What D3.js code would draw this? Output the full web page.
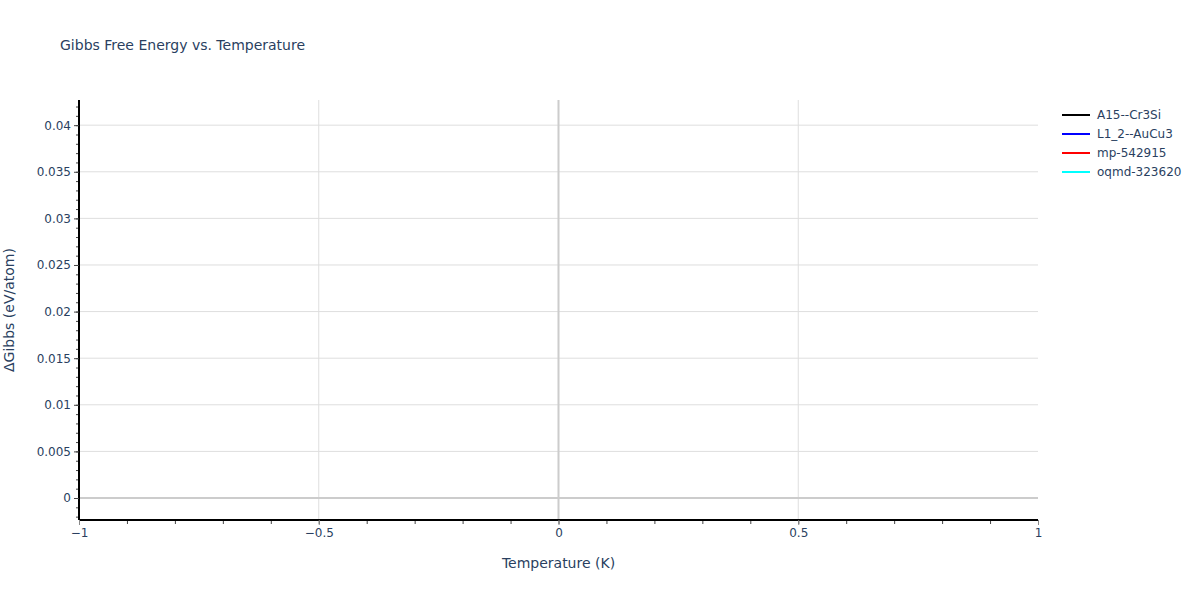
<!DOCTYPE html>
<html>
<head>
<meta charset="utf-8">
<script src="https://cdn.jsdelivr.net/npm/d3@7"></script>
<style>
  body { margin: 0; background: #fff; font-family: "DejaVu Sans", sans-serif; }
  text { font-family: "DejaVu Sans", sans-serif; fill: #2a3f5f; }
</style>
</head>
<body>
<div id="chart"></div>
<script>
// series names and colours (no data points are plotted in the reference)
var seriesNames = ["A15--Cr3Si", "L1_2--AuCu3", "mp-542915", "oqmd-323620"];
var seriesColors = ["black", "blue", "red", "cyan"];
var seriesValues = [[], [], [], []];

var xDomain = [-1, 1];
var yDomain = [-0.00236, 0.0427];
var xTicks = [-1, -0.5, 0, 0.5, 1];
var yTicks = [0, 0.005, 0.01, 0.015, 0.02, 0.025, 0.03, 0.035, 0.04];

var W = 1200, H = 600;
var margin = {top: 100, right: 162, bottom: 80, left: 79},
    width = W - margin.left - margin.right,
    height = H - margin.top - margin.bottom;

var svgRoot = d3.select("#chart").append("svg")
  .attr("width", W)
  .attr("height", H);

var svg = svgRoot.append("g")
  .attr("transform", "translate(" + margin.left + "," + margin.top + ")");

var x = d3.scaleLinear().domain(xDomain).range([0, width]);
var y = d3.scaleLinear().domain(yDomain).range([height, 0]);

// grid lines
svg.append("g")
  .selectAll("line")
  .data(xTicks.filter(d => d !== 0 && d !== -1 && d !== 1))
  .join("line")
    .attr("x1", d => x(d)).attr("x2", d => x(d))
    .attr("y1", 0).attr("y2", height)
    .attr("stroke", "#dedede").attr("stroke-width", 1);

svg.append("g")
  .selectAll("line")
  .data(yTicks.filter(d => d !== 0))
  .join("line")
    .attr("x1", 0).attr("x2", width)
    .attr("y1", d => y(d)).attr("y2", d => y(d))
    .attr("stroke", "#dedede").attr("stroke-width", 1);

// zero lines
svg.append("line")
  .attr("x1", x(0)).attr("x2", x(0))
  .attr("y1", 0).attr("y2", height)
  .attr("stroke", "#cccccc").attr("stroke-width", 2);
svg.append("line")
  .attr("x1", 0).attr("x2", width)
  .attr("y1", y(0)).attr("y2", y(0))
  .attr("stroke", "#cccccc").attr("stroke-width", 2);

// data lines (empty)
var line = d3.line().x(d => x(d[0])).y(d => y(d[1]));
seriesValues.forEach(function(vals, i) {
  svg.append("path")
    .datum(vals)
    .attr("fill", "none")
    .attr("stroke", seriesColors[i])
    .attr("stroke-width", 2)
    .attr("d", line);
});

// minor ticks
svg.append("g")
  .attr("transform", "translate(0," + height + ")")
  .call(d3.axisBottom(x).tickValues(d3.range(-10, 11).map(d => d / 10)).tickSize(4).tickFormat(""))
  .call(g => g.select(".domain").remove())
  .selectAll("line").attr("stroke", "#444");

svg.append("g")
  .call(d3.axisLeft(y).tickValues(d3.range(-2, 43).map(d => d / 1000)).tickSize(3).tickFormat(""))
  .call(g => g.select(".domain").remove())
  .selectAll("line").attr("stroke", "#444");

// X axis
var fmt = function(d) { return d === 0 ? "0" : String(d).replace("-", "\u2212"); };
var xAxis = svg.append("g")
  .attr("transform", "translate(0," + height + ")")
  .call(d3.axisBottom(x).tickValues(xTicks).tickSize(5).tickPadding(3).tickFormat(fmt));
xAxis.select(".domain").attr("stroke", "#000").attr("stroke-width", 2).attr("d", "M0,0H" + width);
xAxis.selectAll(".tick line").attr("stroke", "#888");
xAxis.selectAll("text").style("font-size", "12px").style("fill", "#2a3f5f");

// Y axis
var yAxis = svg.append("g")
  .call(d3.axisLeft(y).tickValues(yTicks).tickSize(5).tickPadding(3).tickFormat(d => d === 0 ? "0" : String(+d.toFixed(3))));
yAxis.select(".domain").attr("stroke", "#000").attr("stroke-width", 2).attr("d", "M0,0V" + height);
yAxis.selectAll(".tick line").attr("stroke", "#444");
yAxis.selectAll("text").style("font-size", "12px").style("fill", "#2a3f5f");

// titles
svgRoot.append("text")
  .attr("x", 60).attr("y", 50)
  .style("font-size", "14px")
  .text("Gibbs Free Energy vs. Temperature");

svgRoot.append("text")
  .attr("x", margin.left + width / 2).attr("y", 568)
  .attr("text-anchor", "middle")
  .style("font-size", "14px")
  .text("Temperature (K)");

svgRoot.append("text")
  .attr("transform", "translate(14," + (margin.top + height / 2) + ") rotate(-90)")
  .attr("text-anchor", "middle")
  .style("font-size", "14px")
  .text("\u0394Gibbs (eV/atom)");

// legend
var legend = svgRoot.append("g").attr("transform", "translate(1062,115)");
seriesNames.forEach(function(name, i) {
  var row = legend.append("g").attr("transform", "translate(0," + (i * 19) + ")");
  row.append("line")
    .attr("x1", 0).attr("x2", 28).attr("y1", 0).attr("y2", 0)
    .attr("stroke", seriesColors[i]).attr("stroke-width", 2);
  row.append("text")
    .attr("x", 35).attr("y", 4)
    .style("font-size", "12px")
    .text(name);
});
</script>
</body>
</html>
